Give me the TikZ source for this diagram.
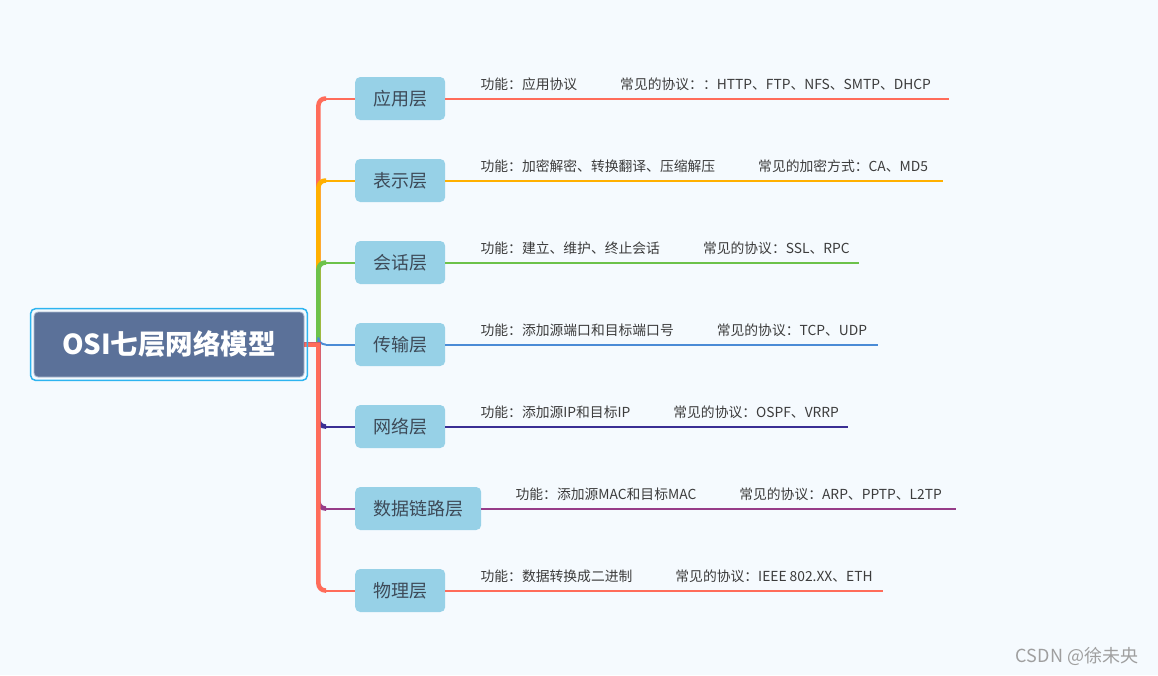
\documentclass[tikz,border=0pt]{standalone}
\usepackage{fontspec}
\setmainfont{Noto Sans CJK SC}
\usepackage{tikz}
\definecolor{bgpaper}{HTML}{F5FAFE}
\definecolor{osifill}{HTML}{5B7199}
\definecolor{osiedge}{HTML}{A9B8D0}
\definecolor{osiring}{HTML}{2DB4F0}
\definecolor{layerfill}{HTML}{97D1E7}
\definecolor{layertext}{HTML}{3D4A58}
\definecolor{notetext}{HTML}{3C3C3C}
\definecolor{c1}{HTML}{FF6C5A}
\definecolor{c2}{HTML}{FFB000}
\definecolor{c3}{HTML}{6CC24A}
\definecolor{c4}{HTML}{4A8BD6}
\definecolor{c5}{HTML}{3A2F94}
\definecolor{c6}{HTML}{963C88}

\begin{document}
\begin{tikzpicture}[x=1pt,y=1pt]
            \tikzstyle{level 1}=[sibling distance=82pt, level distance=186pt]
            \tikzstyle{osi}=[fill=osifill, draw=osiedge, line width=0.8pt, rounded corners=4pt, minimum width=270pt, minimum height=65pt, text=white, font=\fontsize{27.5}{30}\selectfont\bfseries]
            \tikzstyle{ring}=[draw=osiring, line width=1.5pt, rounded corners=5pt]
            \tikzstyle{layer}=[fill=layerfill, text=layertext, rounded corners=5pt, minimum width=89pt, minimum height=43pt, inner xsep=18pt, anchor=west, font=\fontsize{18}{20}\selectfont]
            \tikzstyle{twig}=[line width=2pt]
            \tikzstyle{note}=[anchor=base west, inner sep=0pt, text=notetext, font=\fontsize{13.8}{15}\selectfont]
            \fill[bgpaper] (0,0) rectangle (1158,-675);
            \useasboundingbox (0,0) rectangle (1158,-675);
            \node[osi] (osi) at (169,-344.5) {OSI七层网络模型} [grow'=right, edge from parent/.style={draw, line width=4.5pt},
                edge from parent path={(\tikzparentnode.east) -- ++(14,0) [rounded corners=7pt] |- ([xshift=-29pt]\tikzchildnode.west)}]
                child {node[layer] (app) {应用层} edge from parent[draw=c1]}
                child {node[layer] (pre) {表示层} edge from parent[draw=c2]}
                child {node[layer] (ses) {会话层} edge from parent[draw=c3]}
                child {node[layer] (tra) {传输层} edge from parent[draw=c4, line width=2pt]}
                child {node[layer] (net) {网络层} edge from parent[draw=c5]}
                child {node[layer] (lnk) {数据链路层} edge from parent[draw=c6]}
                child {node[layer] (phy) {物理层} edge from parent[draw=c1]};
            \draw[ring] ([shift={(-3,3)}]osi.north west) rectangle ([shift={(3,-3)}]osi.south east);
            \foreach \n/\c/\len/\gap/\txt in {
                app/c1/504/35/{功能：应用协议\hspace{43pt}常见的协议：：HTTP、FTP、NFS、SMTP、DHCP},
                pre/c2/498/35/{功能：加密解密、转换翻译、压缩解压\hspace{43pt}常见的加密方式：CA、MD5},
                ses/c3/414/35/{功能：建立、维护、终止会话\hspace{43pt}常见的协议：SSL、RPC},
                tra/c4/433/35/{功能：添加源端口和目标端口号\hspace{43pt}常见的协议：TCP、UDP},
                net/c5/403/35/{功能：添加源IP和目标IP\hspace{43pt}常见的协议：OSPF、VRRP},
                lnk/c6/475/34/{功能：添加源MAC和目标MAC\hspace{43pt}常见的协议：ARP、PPTP、L2TP},
                phy/c1/438/35/{功能：数据转换成二进制\hspace{43pt}常见的协议：IEEE 802.XX、ETH}}{
                \path (\n.east) ++(\len,0) coordinate (\n-end);
                \draw[twig, \c] ([xshift=-29pt]\n.west) -- (\n.west);
                \draw[twig, \c] (\n.east) -- (\n-end);
                \node[note] (\n-note) at ([xshift=\gap pt, yshift=9pt]\n.east) {\txt};
            }
            \node[text=gray!75, font=\fontsize{18}{20}\selectfont] (mark) at (1077,-656) {CSDN @徐未央};
        \end{tikzpicture}
\end{document}
